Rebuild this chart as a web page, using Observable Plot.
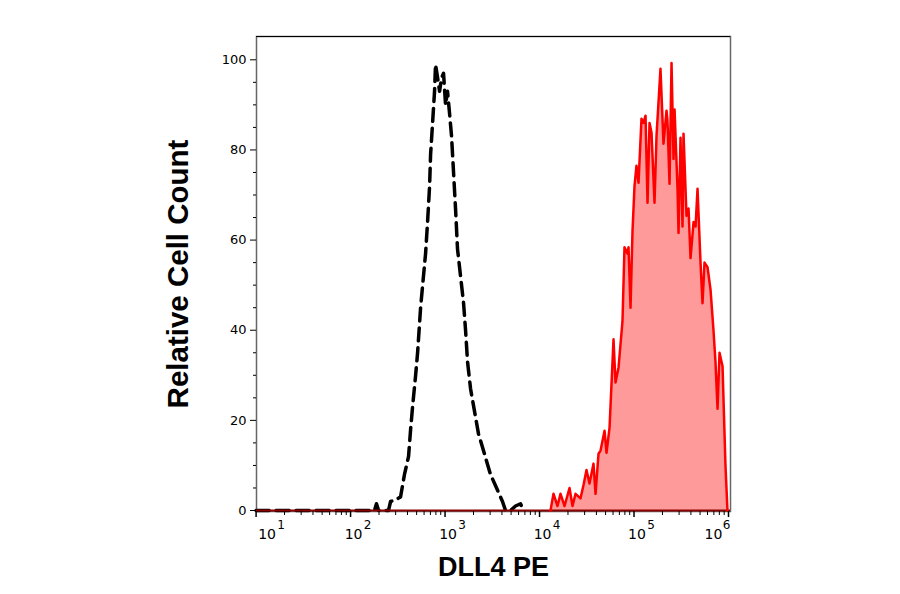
<!DOCTYPE html>
<html><head><meta charset="utf-8">
<script src="https://cdn.jsdelivr.net/npm/d3@7"></script>
<script src="https://cdn.jsdelivr.net/npm/@observablehq/plot@0.6"></script>
<style>body{margin:0;background:#fff}</style>
</head><body><div id="chart"></div>
<script>
// Isotype control (black dashed): intensity and relative count
const isoX = [10, 163, 179, 188, 198, 252, 265, 307, 338, 372, 411, 432, 453, 488, 512, 551, 585, 622, 653, 686, 703, 738, 774, 793, 834, 875, 918, 964, 1012, 1062, 1117, 1172, 1230, 1291, 1355, 1459, 1570, 1648, 1730, 1862, 2051, 2259, 2495, 2748, 3027, 3342, 3681, 4055, 4365, 4932, 5572, 6295, 6776];
const isoY = [0, 0, 0, 1.5, 0, 0, 2, 2.5, 3, 8, 12, 18, 23, 30, 35, 45, 51, 57, 64, 72, 79, 86, 93, 99, 96, 93, 96, 97, 90, 93, 88, 83, 75, 67, 58, 52, 46, 40, 33, 27, 22, 17, 14, 11, 8, 6, 4, 2, 0, 0, 1, 1.5, 0];
// DLL4 PE stained (red filled)
const redX = [13060, 14060, 15490, 16670, 18400, 20760, 22340, 24040, 27160, 29240, 31420, 33800, 37240, 39170, 42100, 44250, 48760, 51170, 55080, 60690, 63680, 68550, 75520, 79280, 85340, 87500, 91840, 96390, 101200, 106200, 111600, 120000, 126100, 132400, 139000, 146000, 153200, 164800, 173000, 190600, 205100, 220800, 226000, 237600, 249500, 261900, 268500, 288700, 295900, 310600, 326100, 334100, 359400, 377600, 396400, 426800, 447900, 470200, 505800, 531000, 557400, 599800, 645400, 693600, 728100, 765600, 803500, 864700, 929100, 975500];
const redY = [0, 3.7, 1, 3.7, 1, 5, 1, 3.7, 2.7, 5.7, 9, 6, 10.4, 3.7, 12.6, 13.3, 17.7, 12.8, 18.4, 38, 28.4, 31.7, 42, 58.4, 57, 58.4, 45, 62, 72, 76.5, 72.7, 86.9, 86, 87.6, 68.3, 86, 83.8, 68.3, 83.1, 98, 81.4, 88.7, 86.5, 72.5, 99.3, 78, 89, 71.4, 61.6, 82.7, 63, 83.6, 65.4, 67, 56, 64, 63, 71.4, 55, 46, 55, 54, 49, 40, 33, 22.6, 35, 32, 10, 0];

const yTicks = [0, 20, 40, 60, 80, 100];
const yMinor = [5, 10, 15, 25, 30, 35, 45, 50, 55, 65, 70, 75, 85, 90, 95];
const xDecades = [10, 100, 1000, 10000, 100000, 1000000];
const xExponents = ["1", "2", "3", "4", "5", "6"];
const xMinorMult = [2, 3, 4, 5, 6, 7, 8, 9];
const xMinor = xDecades.slice(0, 5).flatMap(d => xMinorMult.map(m => m * d));

const xTitle = "DLL4 PE";
const yTitle = "Relative Cell Count";

const iso = isoX.map((x, i) => ({x, y: isoY[i]}));
const red = redX.map((x, i) => ({x, y: redY[i]}));
const dec = xDecades.map((d, i) => ({d, e: xExponents[i]}));
const decMid = dec.slice(1, 5);

const labelFont = "DejaVu Sans";
const titleFont = "Liberation Sans";

const baseOpts = {x: "d", text: () => "10", frameAnchor: "bottom", dy: 27, lineAnchor: "bottom", fontSize: 14, fontFamily: labelFont, fill: "black"};
const expOpts = {x: "d", text: "e", frameAnchor: "bottom", dy: 17, lineAnchor: "bottom", fontSize: 12, fontFamily: labelFont, fill: "black"};

const chart = Plot.plot({
  width: 900,
  height: 594,
  marginLeft: 256,
  marginRight: 170,
  marginTop: 36,
  marginBottom: 83,
  style: {fontFamily: labelFont, fontSize: "13px", color: "black", background: "white"},
  x: {type: "log", domain: [10.1, 1.05e6]},
  y: {domain: [-0.22, 105.17]},
  marks: [
    Plot.frame({stroke: "#666", strokeWidth: 1.5}),
    Plot.ruleY([105.17], {stroke: "black", strokeWidth: 1.2}),
    Plot.areaY(red, {x: "x", y: "y", fill: "#ff9a9a"}),
    Plot.line(iso, {x: "x", y: "y", stroke: "black", strokeWidth: 3.5, strokeDasharray: "13,7"}),
    Plot.ruleY([0], {stroke: "#8b0000", strokeWidth: 2}),
    Plot.line(red, {x: "x", y: "y", stroke: "#ff0000", strokeWidth: 2.5}),
    Plot.axisY(yTicks, {tickSize: 6, tickPadding: 4, label: null, fontSize: 13, fontFamily: labelFont}),
    Plot.axisY(yMinor, {tickSize: 3, fill: "none", label: null}),
    Plot.axisX(xDecades, {tickSize: 6, fill: "none", label: null, strokeWidth: 1.5}),
    Plot.axisX(xMinor, {tickSize: 4, fill: "none", label: null}),
    // x tick labels: "10" with raised exponent
    Plot.text(decMid, {...baseOpts, dx: 3}),
    Plot.text(decMid, {...expOpts, dx: 17}),
    Plot.text(dec.slice(0, 1), {...baseOpts, dx: 11}),
    Plot.text(dec.slice(0, 1), {...expOpts, dx: 25}),
    Plot.text(dec.slice(5), {...baseOpts, dx: -15}),
    Plot.text(dec.slice(5), {...expOpts, dx: -2}),
    // axis titles
    Plot.text([xTitle], {text: d => d, frameAnchor: "bottom", dy: 64, lineAnchor: "bottom", fontSize: 27, fontWeight: "bold", fontFamily: titleFont, fill: "black"}),
    Plot.text([yTitle], {text: d => d, frameAnchor: "left", textAnchor: "middle", dx: -78, rotate: -90, fontSize: 29.5, fontWeight: "bold", fontFamily: titleFont, fill: "black"})
  ]
});
document.getElementById("chart").appendChild(chart);
</script>
</body></html>
